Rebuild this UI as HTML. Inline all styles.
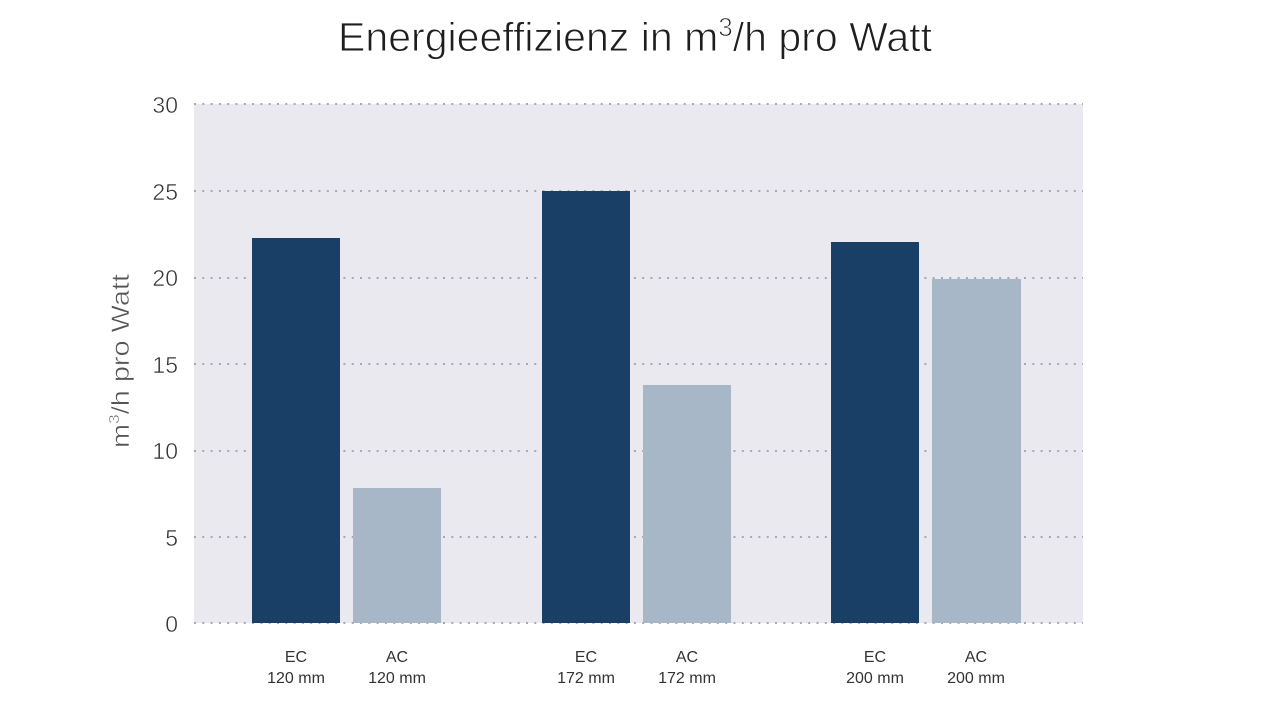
<!DOCTYPE html>
<html><head><meta charset="utf-8">
<style>
html,body{margin:0;padding:0;background:#fff;}
svg{display:block;}
text{font-family:"Liberation Sans",Arial,sans-serif;}
</style></head>
<body>
<svg width="1280" height="721" viewBox="0 0 1280 721" xmlns="http://www.w3.org/2000/svg">
<rect x="0" y="0" width="1280" height="721" fill="#ffffff"/>
<!-- title -->
<text x="338" y="51" font-size="41" fill="#1e1e1e" stroke="#ffffff" stroke-width="0.9" textLength="594" lengthAdjust="spacingAndGlyphs">Energieeffizienz in m<tspan font-size="26" dy="-15">3</tspan><tspan dy="15">/h pro Watt</tspan></text>
<!-- plot background -->
<rect x="194" y="104" width="889" height="519" fill="#e9e9ef"/>
<!-- gridlines -->
<g stroke="#a8a8b4" stroke-width="2" stroke-dasharray="2 6.3" fill="none">
<line x1="194" y1="104" x2="1083" y2="104"/>
<line x1="194" y1="191" x2="1083" y2="191"/>
<line x1="194" y1="278" x2="1083" y2="278"/>
<line x1="194" y1="364" x2="1083" y2="364"/>
<line x1="194" y1="451" x2="1083" y2="451"/>
<line x1="194" y1="537" x2="1083" y2="537"/>
<line x1="194" y1="623" x2="1083" y2="623"/>
</g>
<!-- bars -->
<rect x="252" y="238" width="88" height="385" fill="#1a3f66"/>
<rect x="353" y="488" width="88" height="135" fill="#a7b7c7"/>
<rect x="542" y="191" width="88" height="432" fill="#1a3f66"/>
<rect x="643" y="385" width="88" height="238" fill="#a7b7c7"/>
<rect x="831" y="242" width="88" height="381" fill="#1a3f66"/>
<rect x="932" y="279" width="89" height="344" fill="#a7b7c7"/>
<!-- y tick labels -->
<g font-size="23" fill="#333" text-anchor="end" stroke="#ffffff" stroke-width="0.5">
<text x="178" y="113">30</text>
<text x="178" y="200">25</text>
<text x="178" y="286">20</text>
<text x="178" y="373">15</text>
<text x="178" y="459">10</text>
<text x="178" y="546">5</text>
<text x="178" y="632">0</text>
</g>
<!-- y axis label -->
<text transform="translate(129,448) rotate(-90)" font-size="25" fill="#555" stroke="#ffffff" stroke-width="0.5" textLength="174" lengthAdjust="spacingAndGlyphs">m<tspan font-size="15" dy="-10">3</tspan><tspan dy="10">/h pro Watt</tspan></text>
<!-- category labels -->
<g font-size="16" fill="#333" text-anchor="middle">
<text x="296" y="662">EC</text>
<text x="296" y="683">120 mm</text>
<text x="397" y="662">AC</text>
<text x="397" y="683">120 mm</text>
<text x="586" y="662">EC</text>
<text x="586" y="683">172 mm</text>
<text x="687" y="662">AC</text>
<text x="687" y="683">172 mm</text>
<text x="875" y="662">EC</text>
<text x="875" y="683">200 mm</text>
<text x="976" y="662">AC</text>
<text x="976" y="683">200 mm</text>
</g>
</svg>
</body></html>
